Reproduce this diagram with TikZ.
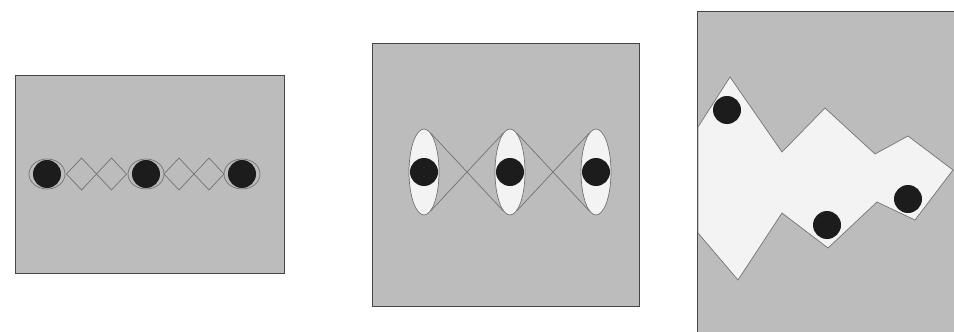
\documentclass[tikz,border=0pt]{standalone}
\usepackage{tikz}
\usetikzlibrary{shapes.geometric,calc}
\definecolor{panelgray}{RGB}{188,188,188}
\definecolor{framegray}{RGB}{70,70,70}
\definecolor{linegray}{RGB}{115,115,115}
\definecolor{atomblack}{RGB}{28,28,28}
\definecolor{lobewhite}{RGB}{243,243,243}
\tikzset{
  panel/.style={fill=panelgray,draw=framegray,line width=0.9pt},
  atom/.style={circle,fill=atomblack,minimum size=28pt,inner sep=0pt},
  lobe/.style={ellipse,draw=linegray,fill=lobewhite,line width=0.7pt,minimum width=30pt,minimum height=86pt,inner sep=0pt},
  bond/.style={draw=linegray,line width=0.7pt}
}
\begin{document}
\begin{tikzpicture}[x=1pt,y=-1pt]
  \useasboundingbox (0,0) rectangle (954,332);
  % Panel 1: atoms linked by chains of diamonds
  \draw[panel] (15,75) rectangle (284,273);
  \foreach \n/\x in {a1/47,a2/146,a3/242}{
    \draw[bond] (\x,174) ellipse (18 and 15);
    \node[atom] (\n) at (\x,174) {};
  }
  \coordinate (m1) at ($(a1)!0.5!(a2)$);
  \coordinate (m2) at ($(a2)!0.5!(a3)$);
  \foreach \m in {m1,m2}{
    \foreach \dx in {-15,15}{
      \draw[bond] ($(\m)+(\dx-15,0)$) -- ($(\m)+(\dx,-16)$) -- ($(\m)+(\dx+15,0)$) -- ($(\m)+(\dx,16)$) -- cycle;
    }}
  % Panel 2: atoms in elongated lobes, crossed links
  \draw[panel] (372,43) rectangle (639,306);
  \foreach \i/\x in {1/424,2/510,3/596}{\node[lobe] (e\i) at (\x,172) {};}
  \draw[bond] (e1.80) -- (e2.-100) (e1.-80) -- (e2.100)
              (e2.80) -- (e3.-100) (e2.-80) -- (e3.100);
  \foreach \i in {1,2,3}{\node[atom] (b\i) at (e\i) {};}
  % Panel 3: jagged white band, cut at the page edge
  \fill[panelgray] (697,11) rectangle (954,332);
  \draw[framegray,line width=0.9pt] (697,332) -- (697,11) -- (954,11);
  \draw[bond,fill=lobewhite] (698,127) -- (730,77) -- (782,152) -- (825,108) -- (875,154)
    -- (908,136) -- (953,170) -- (915,220) -- (877,202) -- (828,248) -- (782,213)
    -- (738,280) -- (698,233) -- cycle;
  \node[atom] (c1) at (727,110) {};
  \node[atom] (c2) at (827,225) {};
  \node[atom] (c3) at (908,199) {};
\end{tikzpicture}
\end{document}
